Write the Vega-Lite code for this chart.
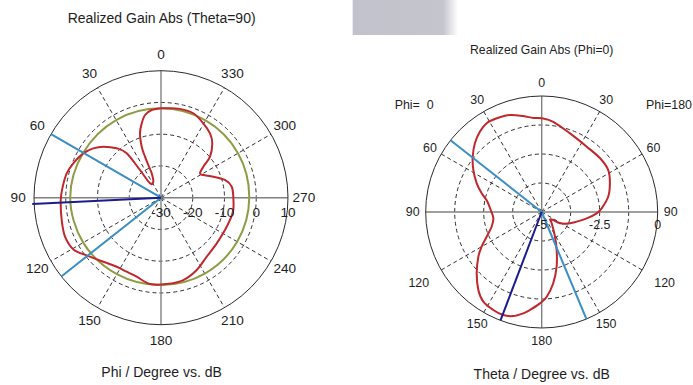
{
  "$schema": "https://vega.github.io/schema/vega-lite/v6.json",
  "padding": 0,
  "spacing": 0,
  "bounds": "flush",
  "background": "#ffffff",
  "resolve": {"scale": {"size": "independent"}, "legend": {"size": "independent"}},
  "config": {"view": {"stroke": null}, "text": {"font": "Liberation Sans", "color": "#1e1e1e"}},
  "hconcat": [
    {
      "width": 346,
      "height": 385,
      "layer": [
        {
          "data": {"values": [{"r": 10}, {"r": 20}, {"r": 30}]},
          "transform": [{"calculate": "0", "as": "cx"}, {"calculate": "0", "as": "cy"}],
          "mark": {"type": "point", "shape": "circle", "filled": false, "opacity": 1, "stroke": "#1a1a1a", "strokeWidth": 0.9, "strokeDash": [4, 3]},
          "encoding": {
            "x": {"field": "cx", "type": "quantitative", "scale": {"domain": [-50.71, 58.27], "nice": false, "zero": false}, "axis": null},
            "y": {"field": "cy", "type": "quantitative", "scale": {"domain": [-58.99, 62.27], "nice": false, "zero": false}, "axis": null},
            "size": {"field": "r", "type": "quantitative", "scale": {"type": "pow", "exponent": 2, "domain": [0, 40], "range": [0, 64516], "zero": true}, "legend": null}
          }
        },
        {
          "data": {"values": [{"a": 30}, {"a": 60}, {"a": 120}, {"a": 150}, {"a": 210}, {"a": 240}, {"a": 300}, {"a": 330}]},
          "transform": [
            {"calculate": "0", "as": "x1"},
            {"calculate": "0", "as": "y1"},
            {"calculate": "-40*sin(datum.a*PI/180)", "as": "x2"},
            {"calculate": "40*cos(datum.a*PI/180)", "as": "y2"}
          ],
          "mark": {"type": "rule", "stroke": "#1a1a1a", "strokeWidth": 0.9, "strokeDash": [4, 3]},
          "encoding": {
            "x": {"field": "x1", "type": "quantitative", "scale": {"domain": [-50.71, 58.27], "nice": false, "zero": false}, "axis": null},
            "y": {"field": "y1", "type": "quantitative", "scale": {"domain": [-58.99, 62.27], "nice": false, "zero": false}, "axis": null},
            "x2": {"field": "x2"},
            "y2": {"field": "y2"}
          }
        },
        {
          "data": {"values": [{"a": 0}, {"a": 90}]},
          "transform": [
            {"calculate": "-40*sin(datum.a*PI/180)", "as": "x1"},
            {"calculate": "40*cos(datum.a*PI/180)", "as": "y1"},
            {"calculate": "40*sin(datum.a*PI/180)", "as": "x2"},
            {"calculate": "-40*cos(datum.a*PI/180)", "as": "y2"}
          ],
          "mark": {"type": "rule", "stroke": "#808080", "strokeWidth": 1.4},
          "encoding": {
            "x": {"field": "x1", "type": "quantitative", "scale": {"domain": [-50.71, 58.27], "nice": false, "zero": false}, "axis": null},
            "y": {"field": "y1", "type": "quantitative", "scale": {"domain": [-58.99, 62.27], "nice": false, "zero": false}, "axis": null},
            "x2": {"field": "x2"},
            "y2": {"field": "y2"}
          }
        },
        {
          "data": {"values": [{"r": 40}]},
          "transform": [{"calculate": "0", "as": "cx"}, {"calculate": "0", "as": "cy"}],
          "mark": {"type": "point", "shape": "circle", "filled": false, "opacity": 1, "stroke": "#2a2a2a", "strokeWidth": 1},
          "encoding": {
            "x": {"field": "cx", "type": "quantitative", "scale": {"domain": [-50.71, 58.27], "nice": false, "zero": false}, "axis": null},
            "y": {"field": "cy", "type": "quantitative", "scale": {"domain": [-58.99, 62.27], "nice": false, "zero": false}, "axis": null},
            "size": {"field": "r", "type": "quantitative", "scale": {"type": "pow", "exponent": 2, "domain": [0, 40], "range": [0, 64516], "zero": true}, "legend": null}
          }
        },
        {
          "data": {"values": [
            {"phi": 0, "db": -1.85}, {"phi": 30, "db": -1.75}, {"phi": 60, "db": -1.7}, {"phi": 90, "db": -1.4},
            {"phi": 120, "db": -1.7}, {"phi": 150, "db": -2.2}, {"phi": 180, "db": -2.5}, {"phi": 210, "db": -2.4},
            {"phi": 240, "db": -2.3}, {"phi": 270, "db": -2.2}, {"phi": 300, "db": -2.0}, {"phi": 330, "db": -1.9}
          ]},
          "transform": [
            {"window": [{"op": "row_number", "as": "i"}]},
            {"calculate": "-(datum.db+30)*sin(datum.phi*PI/180)", "as": "x"},
            {"calculate": "(datum.db+30)*cos(datum.phi*PI/180)", "as": "y"}
          ],
          "mark": {"type": "line", "interpolate": "cardinal-closed", "color": "#8f9c45", "strokeWidth": 2},
          "encoding": {
            "x": {"field": "x", "type": "quantitative", "scale": {"domain": [-50.71, 58.27], "nice": false, "zero": false}, "axis": null},
            "y": {"field": "y", "type": "quantitative", "scale": {"domain": [-58.99, 62.27], "nice": false, "zero": false}, "axis": null},
            "order": {"field": "i", "type": "quantitative"}
          }
        },
        {
          "data": {"values": [
            {"phi": 0, "db": -1.84}, {"phi": 356.4, "db": -1.78}, {"phi": 348, "db": -1.4}, {"phi": 339.1, "db": -1.53},
            {"phi": 330.4, "db": -3.04}, {"phi": 322.7, "db": -4.52}, {"phi": 316.7, "db": -6.45}, {"phi": 309.9, "db": -9.87},
            {"phi": 306.2, "db": -13.49}, {"phi": 302, "db": -15.51}, {"phi": 298.2, "db": -14.88}, {"phi": 291.9, "db": -12.24},
            {"phi": 285.5, "db": -9.09}, {"phi": 278.8, "db": -7.45}, {"phi": 270.8, "db": -7.23}, {"phi": 260.3, "db": -6.91},
            {"phi": 252.1, "db": -7.17}, {"phi": 243.2, "db": -7.42}, {"phi": 230.7, "db": -7.32}, {"phi": 217.8, "db": -6.5},
            {"phi": 206.3, "db": -4.61}, {"phi": 195.2, "db": -3.13}, {"phi": 183.8, "db": -2.76}, {"phi": 172.7, "db": -2.6},
            {"phi": 162.9, "db": -3.96}, {"phi": 155.1, "db": -4.3}, {"phi": 147.3, "db": -4.17}, {"phi": 138, "db": -2.85},
            {"phi": 128.5, "db": -0.6}, {"phi": 120.8, "db": 2.0}, {"phi": 112.1, "db": 2.63}, {"phi": 102.7, "db": 2.06},
            {"phi": 91.3, "db": 1.59}, {"phi": 83.6, "db": 1.15}, {"phi": 75.5, "db": 0.68}, {"phi": 68.6, "db": -0.33},
            {"phi": 60.3, "db": -1.81}, {"phi": 53.9, "db": -3.61}, {"phi": 48.5, "db": -5.75}, {"phi": 41.9, "db": -9.09},
            {"phi": 37.7, "db": -12.33}, {"phi": 37.2, "db": -19.04}, {"phi": 37.4, "db": -24.3}, {"phi": 25.7, "db": -24.4},
            {"phi": 20.9, "db": -21.78}, {"phi": 21.2, "db": -19.53}, {"phi": 21.3, "db": -16.14}, {"phi": 20.7, "db": -12.83},
            {"phi": 18.1, "db": -8.68}, {"phi": 14.5, "db": -5.78}, {"phi": 10.9, "db": -3.48}, {"phi": 6.1, "db": -2.22}
          ]},
          "transform": [
            {"window": [{"op": "row_number", "as": "i"}]},
            {"calculate": "-(datum.db+30)*sin(datum.phi*PI/180)", "as": "x"},
            {"calculate": "(datum.db+30)*cos(datum.phi*PI/180)", "as": "y"}
          ],
          "mark": {"type": "line", "interpolate": "cardinal-closed", "color": "#c1272d", "strokeWidth": 2},
          "encoding": {
            "x": {"field": "x", "type": "quantitative", "scale": {"domain": [-50.71, 58.27], "nice": false, "zero": false}, "axis": null},
            "y": {"field": "y", "type": "quantitative", "scale": {"domain": [-58.99, 62.27], "nice": false, "zero": false}, "axis": null},
            "order": {"field": "i", "type": "quantitative"}
          }
        },
        {
          "data": {"values": [{"phi": 60}, {"phi": 128.3}]},
          "transform": [
            {"calculate": "0", "as": "x1"},
            {"calculate": "0", "as": "y1"},
            {"calculate": "-40*sin(datum.phi*PI/180)", "as": "x2"},
            {"calculate": "40*cos(datum.phi*PI/180)", "as": "y2"}
          ],
          "mark": {"type": "rule", "stroke": "#3a8fc4", "strokeWidth": 2},
          "encoding": {
            "x": {"field": "x1", "type": "quantitative", "scale": {"domain": [-50.71, 58.27], "nice": false, "zero": false}, "axis": null},
            "y": {"field": "y1", "type": "quantitative", "scale": {"domain": [-58.99, 62.27], "nice": false, "zero": false}, "axis": null},
            "x2": {"field": "x2"},
            "y2": {"field": "y2"}
          }
        },
        {
          "data": {"values": [{"phi": 92.8}]},
          "transform": [
            {"calculate": "0", "as": "x1"},
            {"calculate": "0", "as": "y1"},
            {"calculate": "-40.6*sin(datum.phi*PI/180)", "as": "x2"},
            {"calculate": "40.6*cos(datum.phi*PI/180)", "as": "y2"}
          ],
          "mark": {"type": "rule", "stroke": "#1c1c8c", "strokeWidth": 2},
          "encoding": {
            "x": {"field": "x1", "type": "quantitative", "scale": {"domain": [-50.71, 58.27], "nice": false, "zero": false}, "axis": null},
            "y": {"field": "y1", "type": "quantitative", "scale": {"domain": [-58.99, 62.27], "nice": false, "zero": false}, "axis": null},
            "x2": {"field": "x2"},
            "y2": {"field": "y2"}
          }
        },
        {
          "data": {"values": [
            {"phi": "0"}, {"phi": "30"}, {"phi": "60"}, {"phi": "90"}, {"phi": "120"}, {"phi": "150"},
            {"phi": "180"}, {"phi": "210"}, {"phi": "240"}, {"phi": "270"}, {"phi": "300"}, {"phi": "330"}
          ]},
          "transform": [
            {"calculate": "-45*sin(toNumber(datum.phi)*PI/180)", "as": "x"},
            {"calculate": "45*cos(toNumber(datum.phi)*PI/180)", "as": "y"}
          ],
          "mark": {"type": "text", "fontSize": 13.6, "align": "center", "baseline": "middle"},
          "encoding": {
            "x": {"field": "x", "type": "quantitative", "scale": {"domain": [-50.71, 58.27], "nice": false, "zero": false}, "axis": null},
            "y": {"field": "y", "type": "quantitative", "scale": {"domain": [-58.99, 62.27], "nice": false, "zero": false}, "axis": null},
            "text": {"field": "phi", "type": "nominal"}
          }
        },
        {
          "data": {"values": [{"v": "-30", "r": 0}, {"v": "-20", "r": 10}, {"v": "-10", "r": 20}, {"v": "0", "r": 30}, {"v": "10", "r": 40}]},
          "transform": [{"calculate": "-4.7", "as": "ly"}],
          "mark": {"type": "text", "fontSize": 13.6, "align": "center", "baseline": "middle"},
          "encoding": {
            "x": {"field": "r", "type": "quantitative", "scale": {"domain": [-50.71, 58.27], "nice": false, "zero": false}, "axis": null},
            "y": {"field": "ly", "type": "quantitative", "scale": {"domain": [-58.99, 62.27], "nice": false, "zero": false}, "axis": null},
            "text": {"field": "v", "type": "nominal"}
          }
        },
        {
          "data": {"values": [{"t": "Realized Gain Abs (Theta=90)", "yy": 56.3}, {"t": "Phi / Degree vs. dB", "yy": -55.2}]},
          "transform": [{"calculate": "0.2", "as": "xx"}],
          "mark": {"type": "text", "fontSize": 14, "align": "center", "baseline": "middle"},
          "encoding": {
            "x": {"field": "xx", "type": "quantitative", "scale": {"domain": [-50.71, 58.27], "nice": false, "zero": false}, "axis": null},
            "y": {"field": "yy", "type": "quantitative", "scale": {"domain": [-58.99, 62.27], "nice": false, "zero": false}, "axis": null},
            "text": {"field": "t", "type": "nominal"}
          }
        }
      ]
    },
    {
      "width": 347,
      "height": 385,
      "layer": [
        {
          "data": {"values": [{"k": 1}]},
          "transform": [
            {"calculate": "-8.147", "as": "x1"},
            {"calculate": "-3.608", "as": "x2"},
            {"calculate": "9.138", "as": "y1"},
            {"calculate": "7.629", "as": "y2"}
          ],
          "mark": {"type": "rect", "fill": {"gradient": "linear", "x1": 0, "x2": 1, "y1": 0, "y2": 0, "stops": [{"offset": 0, "color": "#c2c2cc"}, {"offset": 0.86, "color": "#c5c5ce"}, {"offset": 1, "color": "#ffffff"}]}},
          "encoding": {
            "x": {"field": "x1", "type": "quantitative", "scale": {"domain": [-8.435, 6.522], "nice": false, "zero": false}, "axis": null},
            "x2": {"field": "x2"},
            "y": {"field": "y1", "type": "quantitative", "scale": {"domain": [-7.457, 9.138], "nice": false, "zero": false}, "axis": null},
            "y2": {"field": "y2"}
          }
        },
        {
          "data": {"values": [{"r": 1.25}, {"r": 2.5}, {"r": 3.75}]},
          "transform": [{"calculate": "0", "as": "cx"}, {"calculate": "0", "as": "cy"}],
          "mark": {"type": "point", "shape": "circle", "filled": false, "opacity": 1, "stroke": "#1a1a1a", "strokeWidth": 0.9, "strokeDash": [4, 3]},
          "encoding": {
            "x": {"field": "cx", "type": "quantitative", "scale": {"domain": [-8.435, 6.522], "nice": false, "zero": false}, "axis": null},
            "y": {"field": "cy", "type": "quantitative", "scale": {"domain": [-7.457, 9.138], "nice": false, "zero": false}, "axis": null},
            "size": {"field": "r", "type": "quantitative", "scale": {"type": "pow", "exponent": 2, "domain": [0, 5], "range": [0, 53824], "zero": true}, "legend": null}
          }
        },
        {
          "data": {"values": [{"a": 30}, {"a": 60}, {"a": 120}, {"a": 150}, {"a": 210}, {"a": 240}, {"a": 300}, {"a": 330}]},
          "transform": [
            {"calculate": "0", "as": "x1"},
            {"calculate": "0", "as": "y1"},
            {"calculate": "-5*sin(datum.a*PI/180)", "as": "x2"},
            {"calculate": "5*cos(datum.a*PI/180)", "as": "y2"}
          ],
          "mark": {"type": "rule", "stroke": "#1a1a1a", "strokeWidth": 0.9, "strokeDash": [4, 3]},
          "encoding": {
            "x": {"field": "x1", "type": "quantitative", "scale": {"domain": [-8.435, 6.522], "nice": false, "zero": false}, "axis": null},
            "y": {"field": "y1", "type": "quantitative", "scale": {"domain": [-7.457, 9.138], "nice": false, "zero": false}, "axis": null},
            "x2": {"field": "x2"},
            "y2": {"field": "y2"}
          }
        },
        {
          "data": {"values": [{"a": 0}, {"a": 90}]},
          "transform": [
            {"calculate": "-5*sin(datum.a*PI/180)", "as": "x1"},
            {"calculate": "5*cos(datum.a*PI/180)", "as": "y1"},
            {"calculate": "5*sin(datum.a*PI/180)", "as": "x2"},
            {"calculate": "-5*cos(datum.a*PI/180)", "as": "y2"}
          ],
          "mark": {"type": "rule", "stroke": "#808080", "strokeWidth": 1.4},
          "encoding": {
            "x": {"field": "x1", "type": "quantitative", "scale": {"domain": [-8.435, 6.522], "nice": false, "zero": false}, "axis": null},
            "y": {"field": "y1", "type": "quantitative", "scale": {"domain": [-7.457, 9.138], "nice": false, "zero": false}, "axis": null},
            "x2": {"field": "x2"},
            "y2": {"field": "y2"}
          }
        },
        {
          "data": {"values": [{"r": 5}]},
          "transform": [{"calculate": "0", "as": "cx"}, {"calculate": "0", "as": "cy"}],
          "mark": {"type": "point", "shape": "circle", "filled": false, "opacity": 1, "stroke": "#2a2a2a", "strokeWidth": 1},
          "encoding": {
            "x": {"field": "cx", "type": "quantitative", "scale": {"domain": [-8.435, 6.522], "nice": false, "zero": false}, "axis": null},
            "y": {"field": "cy", "type": "quantitative", "scale": {"domain": [-7.457, 9.138], "nice": false, "zero": false}, "axis": null},
            "size": {"field": "r", "type": "quantitative", "scale": {"type": "pow", "exponent": 2, "domain": [0, 5], "range": [0, 53824], "zero": true}, "legend": null}
          }
        },
        {
          "data": {"values": [
            {"phi": 0, "theta": 0, "db": -0.96}, {"phi": 180, "theta": 7.3, "db": -1.08}, {"phi": 180, "theta": 19.8, "db": -1.4},
            {"phi": 180, "theta": 34.6, "db": -1.58}, {"phi": 180, "theta": 47.4, "db": -1.58}, {"phi": 180, "theta": 57.8, "db": -1.61},
            {"phi": 180, "theta": 67.2, "db": -1.81}, {"phi": 180, "theta": 77.1, "db": -2.06}, {"phi": 180, "theta": 86.5, "db": -2.41},
            {"phi": 180, "theta": 91.4, "db": -2.63}, {"phi": 180, "theta": 98, "db": -3.04}, {"phi": 180, "theta": 111.8, "db": -3.69},
            {"phi": 180, "theta": 121.7, "db": -4.07}, {"phi": 180, "theta": 124.6, "db": -4.39}, {"phi": 180, "theta": 131.3, "db": -4.52},
            {"phi": 180, "theta": 138.5, "db": -4.35}, {"phi": 180, "theta": 151.7, "db": -3.79}, {"phi": 180, "theta": 158.5, "db": -3.24},
            {"phi": 180, "theta": 164.7, "db": -2.56}, {"phi": 180, "theta": 170.8, "db": -1.89}, {"phi": 180, "theta": 176.6, "db": -1.34},
            {"phi": 0, "theta": 178.9, "db": -1.06}, {"phi": 0, "theta": 173.2, "db": -0.75}, {"phi": 0, "theta": 169.7, "db": -0.56},
            {"phi": 0, "theta": 164.7, "db": -0.35}, {"phi": 0, "theta": 159.6, "db": -0.26}, {"phi": 0, "theta": 153.7, "db": -0.29},
            {"phi": 0, "theta": 146.9, "db": -0.39}, {"phi": 0, "theta": 140.9, "db": -0.67}, {"phi": 0, "theta": 133.3, "db": -1.15},
            {"phi": 0, "theta": 125.2, "db": -1.66}, {"phi": 0, "theta": 120, "db": -2.01}, {"phi": 0, "theta": 114.2, "db": -2.4},
            {"phi": 0, "theta": 106.4, "db": -2.75}, {"phi": 0, "theta": 97.4, "db": -2.9}, {"phi": 0, "theta": 87.7, "db": -2.8},
            {"phi": 0, "theta": 78.6, "db": -2.6}, {"phi": 0, "theta": 72.7, "db": -2.29}, {"phi": 0, "theta": 66.2, "db": -1.94},
            {"phi": 0, "theta": 58.4, "db": -1.54}, {"phi": 0, "theta": 51.3, "db": -1.19}, {"phi": 0, "theta": 44.2, "db": -0.87},
            {"phi": 0, "theta": 37.5, "db": -0.63}, {"phi": 0, "theta": 31.8, "db": -0.5}, {"phi": 0, "theta": 25.6, "db": -0.52},
            {"phi": 0, "theta": 18.1, "db": -0.6}, {"phi": 0, "theta": 10.9, "db": -0.79}, {"phi": 0, "theta": 5.1, "db": -0.93}
          ]},
          "transform": [
            {"window": [{"op": "row_number", "as": "i"}]},
            {"calculate": "(datum.phi==0?-1:1)*(datum.db+5)*sin(datum.theta*PI/180)", "as": "x"},
            {"calculate": "(datum.db+5)*cos(datum.theta*PI/180)", "as": "y"}
          ],
          "mark": {"type": "line", "interpolate": "cardinal-closed", "color": "#c1272d", "strokeWidth": 2},
          "encoding": {
            "x": {"field": "x", "type": "quantitative", "scale": {"domain": [-8.435, 6.522], "nice": false, "zero": false}, "axis": null},
            "y": {"field": "y", "type": "quantitative", "scale": {"domain": [-7.457, 9.138], "nice": false, "zero": false}, "axis": null},
            "order": {"field": "i", "type": "quantitative"}
          }
        },
        {
          "data": {"values": [{"phi": 0, "theta": 51.8}, {"phi": 180, "theta": 157.3}]},
          "transform": [
            {"calculate": "0", "as": "x1"},
            {"calculate": "0", "as": "y1"},
            {"calculate": "(datum.phi==0?-1:1)*5*sin(datum.theta*PI/180)", "as": "x2"},
            {"calculate": "5*cos(datum.theta*PI/180)", "as": "y2"}
          ],
          "mark": {"type": "rule", "stroke": "#3a8fc4", "strokeWidth": 2},
          "encoding": {
            "x": {"field": "x1", "type": "quantitative", "scale": {"domain": [-8.435, 6.522], "nice": false, "zero": false}, "axis": null},
            "y": {"field": "y1", "type": "quantitative", "scale": {"domain": [-7.457, 9.138], "nice": false, "zero": false}, "axis": null},
            "x2": {"field": "x2"},
            "y2": {"field": "y2"}
          }
        },
        {
          "data": {"values": [{"phi": 0, "theta": 159.2}]},
          "transform": [
            {"calculate": "0", "as": "x1"},
            {"calculate": "0", "as": "y1"},
            {"calculate": "(datum.phi==0?-1:1)*5*sin(datum.theta*PI/180)", "as": "x2"},
            {"calculate": "5*cos(datum.theta*PI/180)", "as": "y2"}
          ],
          "mark": {"type": "rule", "stroke": "#1c1c8c", "strokeWidth": 2},
          "encoding": {
            "x": {"field": "x1", "type": "quantitative", "scale": {"domain": [-8.435, 6.522], "nice": false, "zero": false}, "axis": null},
            "y": {"field": "y1", "type": "quantitative", "scale": {"domain": [-7.457, 9.138], "nice": false, "zero": false}, "axis": null},
            "x2": {"field": "x2"},
            "y2": {"field": "y2"}
          }
        },
        {
          "data": {"values": [
            {"theta": "0", "phi": 0}, {"theta": "30", "phi": 0}, {"theta": "60", "phi": 0}, {"theta": "90", "phi": 0},
            {"theta": "120", "phi": 0}, {"theta": "150", "phi": 0}, {"theta": "180", "phi": 0},
            {"theta": "30", "phi": 180}, {"theta": "60", "phi": 180}, {"theta": "90", "phi": 180},
            {"theta": "120", "phi": 180}, {"theta": "150", "phi": 180}
          ]},
          "transform": [
            {"calculate": "toNumber(datum.theta)==120 ? 6.12 : 5.56", "as": "lr"},
            {"calculate": "(datum.phi==0?-1:1)*datum.lr*sin(toNumber(datum.theta)*PI/180)", "as": "x"},
            {"calculate": "datum.lr*cos(toNumber(datum.theta)*PI/180)", "as": "y"}
          ],
          "mark": {"type": "text", "fontSize": 12.4, "align": "center", "baseline": "middle"},
          "encoding": {
            "x": {"field": "x", "type": "quantitative", "scale": {"domain": [-8.435, 6.522], "nice": false, "zero": false}, "axis": null},
            "y": {"field": "y", "type": "quantitative", "scale": {"domain": [-7.457, 9.138], "nice": false, "zero": false}, "axis": null},
            "text": {"field": "theta", "type": "nominal"}
          }
        },
        {
          "data": {"values": [{"v": "-5", "r": 0}, {"v": "-2.5", "r": 2.5}, {"v": "0", "r": 5}]},
          "transform": [{"calculate": "-0.57", "as": "ly"}],
          "mark": {"type": "text", "fontSize": 12.4, "align": "center", "baseline": "middle"},
          "encoding": {
            "x": {"field": "r", "type": "quantitative", "scale": {"domain": [-8.435, 6.522], "nice": false, "zero": false}, "axis": null},
            "y": {"field": "ly", "type": "quantitative", "scale": {"domain": [-7.457, 9.138], "nice": false, "zero": false}, "axis": null},
            "text": {"field": "v", "type": "nominal"}
          }
        },
        {
          "data": {"values": [{"t": "Realized Gain Abs (Phi=0)", "yy": 6.98}]},
          "transform": [{"calculate": "0", "as": "xx"}],
          "mark": {"type": "text", "fontSize": 12.2, "align": "center", "baseline": "middle"},
          "encoding": {
            "x": {"field": "xx", "type": "quantitative", "scale": {"domain": [-8.435, 6.522], "nice": false, "zero": false}, "axis": null},
            "y": {"field": "yy", "type": "quantitative", "scale": {"domain": [-7.457, 9.138], "nice": false, "zero": false}, "axis": null},
            "text": {"field": "t", "type": "nominal"}
          }
        },
        {
          "data": {"values": [{"t": "Theta / Degree vs. dB", "yy": -7.03}]},
          "transform": [{"calculate": "0", "as": "xx"}],
          "mark": {"type": "text", "fontSize": 14, "align": "center", "baseline": "middle"},
          "encoding": {
            "x": {"field": "xx", "type": "quantitative", "scale": {"domain": [-8.435, 6.522], "nice": false, "zero": false}, "axis": null},
            "y": {"field": "yy", "type": "quantitative", "scale": {"domain": [-7.457, 9.138], "nice": false, "zero": false}, "axis": null},
            "text": {"field": "t", "type": "nominal"}
          }
        },
        {
          "data": {"values": [{"t": "Phi=\u00a0\u00a00", "xx": -5.5, "yy": 4.61}]},
          "mark": {"type": "text", "fontSize": 12.4, "align": "center", "baseline": "middle"},
          "encoding": {
            "x": {"field": "xx", "type": "quantitative", "scale": {"domain": [-8.435, 6.522], "nice": false, "zero": false}, "axis": null},
            "y": {"field": "yy", "type": "quantitative", "scale": {"domain": [-7.457, 9.138], "nice": false, "zero": false}, "axis": null},
            "text": {"field": "t", "type": "nominal"}
          }
        },
        {
          "data": {"values": [{"t": "Phi=180", "xx": 4.5, "yy": 4.61}]},
          "mark": {"type": "text", "fontSize": 12.4, "align": "left", "baseline": "middle"},
          "encoding": {
            "x": {"field": "xx", "type": "quantitative", "scale": {"domain": [-8.435, 6.522], "nice": false, "zero": false}, "axis": null},
            "y": {"field": "yy", "type": "quantitative", "scale": {"domain": [-7.457, 9.138], "nice": false, "zero": false}, "axis": null},
            "text": {"field": "t", "type": "nominal"}
          }
        }
      ]
    }
  ]
}
